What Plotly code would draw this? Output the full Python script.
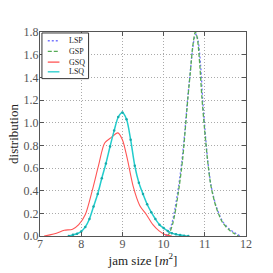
import plotly.graph_objects as go

# LSP (blue dotted)
lsp_x = [10.05, 10.12, 10.2, 10.28, 10.36, 10.44, 10.52, 10.58, 10.64, 10.7, 10.75, 10.79, 10.84, 10.9, 10.95, 11.0, 11.07, 11.15, 11.27, 11.43, 11.6, 11.72, 11.86]
lsp_y = [0.0, 0.03, 0.11, 0.25, 0.43, 0.65, 0.94, 1.2, 1.42, 1.64, 1.75, 1.78, 1.72, 1.5, 1.2, 0.96, 0.67, 0.45, 0.27, 0.13, 0.06, 0.03, 0.0]

# GSP (green dashed)
gsp_x = [10.1, 10.16, 10.23, 10.3, 10.38, 10.46, 10.53, 10.59, 10.65, 10.71, 10.77, 10.82, 10.88, 10.93, 10.99, 11.07, 11.15, 11.27, 11.43, 11.6, 11.72, 11.82]
gsp_y = [0.0, 0.04, 0.12, 0.25, 0.44, 0.67, 0.96, 1.22, 1.45, 1.68, 1.8, 1.74, 1.5, 1.22, 0.96, 0.66, 0.44, 0.26, 0.12, 0.05, 0.02, 0.0]

# GSQ (red solid)
gsq_x = [7.1, 7.24, 7.4, 7.59, 7.79, 7.94, 8.1, 8.26, 8.42, 8.57, 8.73, 8.89, 9.0, 9.12, 9.26, 9.42, 9.58, 9.74, 9.89, 10.05, 10.2]
gsq_y = [0.0, 0.01, 0.025, 0.05, 0.06, 0.10, 0.19, 0.39, 0.62, 0.82, 0.87, 0.91, 0.85, 0.68, 0.44, 0.27, 0.19, 0.10, 0.045, 0.01, 0.0]

# LSQ (cyan with dots)
lsq_x = [7.7, 7.8, 7.9, 8.0, 8.1, 8.2, 8.3, 8.4, 8.5, 8.6, 8.7, 8.8, 8.9, 9.0, 9.1, 9.2, 9.3, 9.4, 9.5, 9.6, 9.7, 9.8, 9.9, 10.0, 10.1, 10.2, 10.3, 10.4, 10.5, 10.6]
lsq_y = [0.0, 0.01, 0.02, 0.04, 0.08, 0.15, 0.26, 0.37, 0.51, 0.64, 0.79, 0.93, 1.05, 1.09, 1.03, 0.85, 0.62, 0.47, 0.37, 0.28, 0.21, 0.15, 0.10, 0.07, 0.045, 0.025, 0.015, 0.008, 0.003, 0.0]

series_names = ["LSP", "GSP", "GSQ", "LSQ"]
x_ticks = [7, 8, 9, 10, 11, 12]
y_ticks = [0.0, 0.2, 0.4, 0.6, 0.8, 1.0, 1.2, 1.4, 1.6, 1.8]

font = "Liberation Serif"
colors = {"LSP": "#7777ff", "GSP": "#55aa55", "GSQ": "#ff5555", "LSQ": "#22cccc"}
dashes = {"LSP": "2px,2px", "GSP": "4px,2px", "GSQ": "solid", "LSQ": "solid"}

fig = go.Figure()
fig.add_trace(go.Scatter(x=lsp_x, y=lsp_y, name="LSP", mode="lines",
                         line=dict(color=colors["LSP"], dash=dashes["LSP"], width=1.3, shape="spline", smoothing=0.8)))
fig.add_trace(go.Scatter(x=gsp_x, y=gsp_y, name="GSP", mode="lines",
                         line=dict(color=colors["GSP"], dash=dashes["GSP"], width=1.3, shape="spline", smoothing=0.8)))
fig.add_trace(go.Scatter(x=gsq_x, y=gsq_y, name="GSQ", mode="lines",
                         line=dict(color=colors["GSQ"], width=1.1, shape="spline", smoothing=0.8)))
fig.add_trace(go.Scatter(x=lsq_x, y=lsq_y, name="LSQ", mode="lines+markers",
                         line=dict(color=colors["LSQ"], width=1.5, shape="spline", smoothing=0.8),
                         marker=dict(size=2.5, color="#18aaaa")))

# manual legend (paper coordinates of the plot area)
L, R, T, B = 34, 246, 32, 242
def px(x):
    return (x - L) / (R - L)
def py(y):
    return (B - y) / (B - T)

fig.add_shape(type="rect", xref="paper", yref="paper",
              x0=px(36), x1=px(84), y0=py(33), y1=py(80),
              line=dict(color="#333333", width=1), fillcolor="white", layer="above")
rows = [41, 52, 63, 73]
for name, ry in zip(series_names, rows):
    fig.add_shape(type="line", xref="paper", yref="paper",
                  x0=px(42), x1=px(54), y0=py(ry), y1=py(ry),
                  line=dict(color=colors[name], width=1.3, dash=dashes[name]), layer="above")
    if name == "LSQ":
        fig.add_trace(go.Scatter(x=[px(42), px(54)], y=[py(ry), py(ry)], xaxis="x2", yaxis="y2",
                                 mode="markers", marker=dict(size=3, color="#18aaaa"),
                                 showlegend=False, hoverinfo="skip"))
    fig.add_annotation(xref="paper", yref="paper", x=px(62), y=py(ry), text=name,
                       showarrow=False, xanchor="left", yanchor="middle",
                       font=dict(family=font, size=8, color="#222222"))

axis_common = dict(showgrid=True, gridcolor="#aaaaaa", griddash="1px,2px", gridwidth=1,
                   showline=True, linecolor="#555555", linewidth=1, mirror="ticks",
                   ticks="inside", ticklen=4, tickcolor="#555555", zeroline=False,
                   tickfont=dict(family=font, size=12, color="#555555"))

fig.update_layout(
    width=273, height=273,
    margin=dict(l=34, r=27, t=32, b=31),
    paper_bgcolor="white", plot_bgcolor="white",
    font=dict(family=font, color="#222222"),
    xaxis=dict(range=[7, 12], tickvals=x_ticks, ticktext=[str(v) for v in x_ticks],
               ticklabelstandoff=-3,
               title=dict(text="jam size [<i>m</i><sup>2</sup>]", font=dict(family=font, size=13), standoff=0),
               **axis_common),
    yaxis=dict(range=[0, 1.8], tickvals=y_ticks, ticktext=[f"{v:.1f}" for v in y_ticks],
               ticklabelstandoff=-2,
               title=dict(text="distribution", font=dict(family=font, size=13), standoff=2),
               **axis_common),
    xaxis2=dict(range=[0, 1], overlaying="x", visible=False),
    yaxis2=dict(range=[0, 1], overlaying="y", visible=False),
    showlegend=False,
)

fig.write_html("out.html", config={"displayModeBar": False},
               post_script="document.body.style.margin='0';document.body.style.overflow='hidden';")
